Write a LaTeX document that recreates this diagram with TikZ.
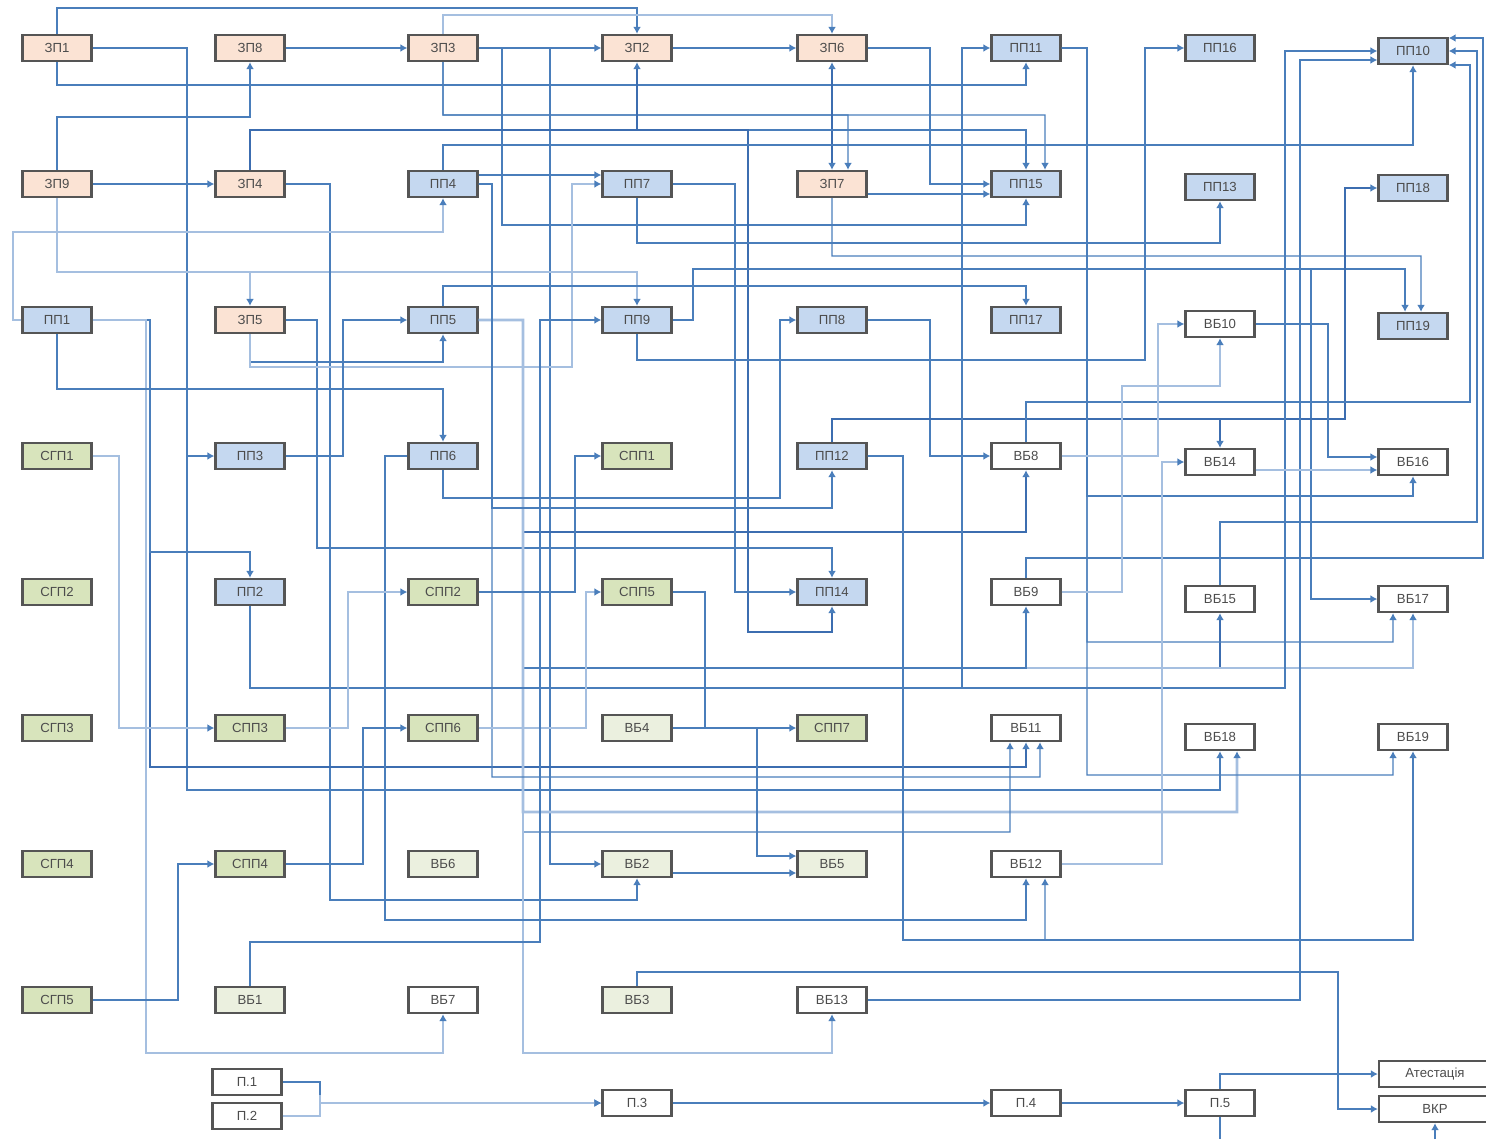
\documentclass[tikz,border=0pt]{standalone}
\usepackage{fontspec}
\setmainfont{Liberation Sans}
\usetikzlibrary{arrows.meta}
\definecolor{zpfill}{HTML}{FBE3D4}
\definecolor{ppfill}{HTML}{C5D8F0}
\definecolor{sgfill}{HTML}{D8E4BC}
\definecolor{vbfill}{HTML}{EBF0DF}
\definecolor{boxline}{HTML}{555555}
\definecolor{lnblue}{HTML}{4A7EBB}
\definecolor{lnlight}{HTML}{A5BFE0}
\definecolor{lndark}{HTML}{3C6DB0}

\begin{document}
\begin{tikzpicture}[x=0.02cm,y=-0.02cm,
  box/.style={draw=boxline,line width=1.3pt,minimum width=1.38cm,minimum height=0.52cm,inner sep=0pt,font=\fontsize{7.5}{9}\selectfont,text=black!70},
  zpbox/.style={box,fill=zpfill},
  ppbox/.style={box,fill=ppfill},
  sgbox/.style={box,fill=sgfill},
  vbgbox/.style={box,fill=vbfill},
  vbbox/.style={box,fill=white},
  ln/.style={draw=lnblue,line width=0.8pt},
  lnl/.style={draw=lnlight,line width=1.6pt},
  lnd/.style={draw=lndark,line width=1.4pt},
  arr/.style={-{Latex[length=4pt,width=4.5pt,color=lnblue]}}
]
\useasboundingbox (0,0) rectangle (1486,1139);

\node[zpbox] (zp1) at (57,48) {ЗП1};
\node[zpbox] (zp8) at (250,48) {ЗП8};
\node[zpbox] (zp3) at (443,48) {ЗП3};
\node[zpbox] (zp2) at (637,48) {ЗП2};
\node[zpbox] (zp6) at (832,48) {ЗП6};
\node[ppbox] (pp11) at (1026,48) {ПП11};
\node[ppbox] (pp16) at (1220,48) {ПП16};
\node[ppbox] (pp10) at (1413,51) {ПП10};

\node[zpbox] (zp9) at (57,184) {ЗП9};
\node[zpbox] (zp4) at (250,184) {ЗП4};
\node[ppbox] (pp4) at (443,184) {ПП4};
\node[ppbox] (pp7) at (637,184) {ПП7};
\node[zpbox] (zp7) at (832,184) {ЗП7};
\node[ppbox] (pp15) at (1026,184) {ПП15};
\node[ppbox] (pp13) at (1220,187) {ПП13};
\node[ppbox] (pp18) at (1413,188) {ПП18};

\node[ppbox] (pp1) at (57,320) {ПП1};
\node[zpbox] (zp5) at (250,320) {ЗП5};
\node[ppbox] (pp5) at (443,320) {ПП5};
\node[ppbox] (pp9) at (637,320) {ПП9};
\node[ppbox] (pp8) at (832,320) {ПП8};
\node[ppbox] (pp17) at (1026,320) {ПП17};
\node[vbbox] (vb10) at (1220,324) {ВБ10};
\node[ppbox] (pp19) at (1413,326) {ПП19};

\node[sgbox] (sg1) at (57,456) {СГП1};
\node[ppbox] (pp3) at (250,456) {ПП3};
\node[ppbox] (pp6) at (443,456) {ПП6};
\node[sgbox] (spp1) at (637,456) {СПП1};
\node[ppbox] (pp12) at (832,456) {ПП12};
\node[vbbox] (vb8) at (1026,456) {ВБ8};
\node[vbbox] (vb14) at (1220,462) {ВБ14};
\node[vbbox] (vb16) at (1413,462) {ВБ16};

\node[sgbox] (sg2) at (57,592) {СГП2};
\node[ppbox] (pp2) at (250,592) {ПП2};
\node[sgbox] (spp2) at (443,592) {СПП2};
\node[sgbox] (spp5) at (637,592) {СПП5};
\node[ppbox] (pp14) at (832,592) {ПП14};
\node[vbbox] (vb9) at (1026,592) {ВБ9};
\node[vbbox] (vb15) at (1220,599) {ВБ15};
\node[vbbox] (vb17) at (1413,599) {ВБ17};

\node[sgbox] (sg3) at (57,728) {СГП3};
\node[sgbox] (spp3) at (250,728) {СПП3};
\node[sgbox] (spp6) at (443,728) {СПП6};
\node[vbgbox] (vb4) at (637,728) {ВБ4};
\node[sgbox] (spp7) at (832,728) {СПП7};
\node[vbbox] (vb11) at (1026,728) {ВБ11};
\node[vbbox] (vb18) at (1220,737) {ВБ18};
\node[vbbox] (vb19) at (1413,737) {ВБ19};

\node[sgbox] (sg4) at (57,864) {СГП4};
\node[sgbox] (spp4) at (250,864) {СПП4};
\node[vbgbox] (vb6) at (443,864) {ВБ6};
\node[vbgbox] (vb2) at (637,864) {ВБ2};
\node[vbgbox] (vb5) at (832,864) {ВБ5};
\node[vbbox] (vb12) at (1026,864) {ВБ12};

\node[sgbox] (sg5) at (57,1000) {СГП5};
\node[vbgbox] (vb1) at (250,1000) {ВБ1};
\node[vbbox] (vb7) at (443,1000) {ВБ7};
\node[vbgbox] (vb3) at (637,1000) {ВБ3};
\node[vbbox] (vb13) at (832,1000) {ВБ13};

\node[vbbox] (p1) at (247,1082) {П.1};
\node[vbbox] (p2) at (247,1116) {П.2};
\node[vbbox] (p3) at (637,1103) {П.3};
\node[vbbox] (p4) at (1026,1103) {П.4};
\node[vbbox] (p5) at (1220,1103) {П.5};
\node[vbbox,minimum width=2.24cm] (att) at (1435,1074) {Атестація};
\node[vbbox,minimum width=2.24cm] (vkr) at (1435,1109) {ВКР};
\coordinate (p5out) at (1220,1139);
\coordinate (vkrin) at (1435,1139);

\draw[ln,arr] (zp1.north) |- (637,8) -- (zp2.north);
\draw[lnl,arr] (zp3.north) |- (832,15) -- (zp6.north);
\draw[ln,arr] (zp1.east) -| (187,300) |- (pp3.west);
\draw[ln,arr] (zp1.east) -| (187,790) -| (vb18.south);
\draw[ln,arr] (zp1.south) |- (1026,85) -- (pp11.south);
\draw[ln,arr] (zp9.north) |- (250,117) -- (zp8.south);
\draw[ln,arr] (zp8) -- (zp3);
\draw[ln,arr] (zp3) -- (zp2);
\draw[ln,arr] (zp2) -- (zp6);
\draw[ln,arr] (zp9) -- (zp4);
\draw[ln,arr] (zp3.east) -| (502,225) -| (pp15.south);
\draw[ln,arr] (zp3.east) -| (550,600) |- (vb2.west);
\draw[ln,arr] (zp3.south) |- (1045,115) -- ([xshift=0.38cm]pp15.north);
\draw[ln,arr] (zp3.south) |- (848,115) -- ([xshift=0.32cm]zp7.north);
\draw[lnd,arr] (zp4.north) |- (637,130) -- (zp2.south);
\draw[lnd,arr] (zp4.north) |- (832,130) -- (zp6.south);
\draw[lnd,arr] (zp4.north) |- (832,130) -- (zp7.north);
\draw[ln,arr] (zp4.north) |- (1026,130) -- (pp15.north);
\draw[lnd,arr] (zp4.north) |- (748,130) |- (832,632) -- (pp14.south);
\draw[ln,arr] (zp6.east) -| (930,120) |- (pp15.west);
\draw[ln,arr] ([yshift=-0.2cm]zp7.east) -- ([yshift=-0.2cm]pp15.west);
\draw[lnl,arr] (zp9.south) |- (250,272) -- (zp5.north);
\draw[lnl,arr] (zp9.south) |- (637,272) -- (pp9.north);
\draw[ln,arr] (zp4.east) -| (330,600) |- (637,900) -- (vb2.south);

\draw[lnd,arr] (pp1.east) -| (150,600) |- (1026,767) -- (vb11.south);
\draw[ln,arr] (pp1.east) -| (150,400) |- (250,552) -- (pp2.north);
\draw[lnl,arr] (pp1.east) -| (146,700) |- (443,1053) -- (vb7.south);
\draw[lnl,arr] (pp1.west) -| (13,280) |- (443,232) -- (pp4.south);
\draw[ln,arr] (pp1.south) |- (443,389) -- (pp6.north);

\draw[ln,arr] (zp5.east) -| (317,400) |- (832,548) -- (pp14.north);
\draw[ln,arr] (zp5.south) |- (443,362) -- (pp5.south);
\draw[lnl,arr] (zp5.south) |- (572,367) |- (pp7.west);
\draw[ln,arr] (pp3.east) -| (343,400) |- (pp5.west);

\draw[lnd,arr] (pp5.east) -| (523,450) |- (1026,532) -- (vb8.south);
\draw[lnd,arr] (pp5.east) -| (523,600) |- (1220,668) -- (vb15.south);
\draw[lnl,arr] (pp5.east) -| (523,600) |- (1413,668) -- (vb17.south);
\draw[ln,arr] (pp5.east) -| (523,600) |- (1026,668) -- (vb9.south);
\draw[lnl,arr] (pp5.east) -| (523,700) |- (1237,812) -- ([xshift=0.34cm]vb18.south);
\draw[ln,arr] (pp5.east) -| (523,700) |- (1010,832) -- ([xshift=-0.32cm]vb11.south);
\draw[lnl,arr] (pp5.east) -| (523,900) |- (832,1053) -- (vb13.south);
\draw[ln,arr] (pp5.north) |- (1026,286) -- (pp17.north);

\draw[ln,arr] (pp4.north) |- (1413,145) -- (pp10.south);
\draw[ln,arr] ([yshift=0.18cm]pp4.east) -- ([yshift=0.18cm]pp7.west);
\draw[ln,arr] (pp4.east) -| (492,400) |- (832,508) -- (pp12.south);
\draw[ln,arr] (pp4.east) -| (492,600) |- (1040,777) -- ([xshift=0.28cm]vb11.south);

\draw[ln,arr] (pp7.east) -| (735,400) |- (pp14.west);
\draw[ln,arr] (pp7.south) |- (1220,243) -- (pp13.south);
\draw[ln,arr] (zp7.south) |- (1421,256) -- ([xshift=0.16cm]pp19.north);
\draw[ln,arr] (pp9.east) -| (693,269) -| ([xshift=-0.16cm]pp19.north);
\draw[ln,arr] (pp9.east) -| (693,269) -| (1311,450) |- (vb17.west);
\draw[ln,arr] (pp9.south) |- (1145,360) |- (pp16.west);
\draw[ln,arr] (pp6.south) |- (780,498) |- (pp8.west);
\draw[ln,arr] (pp6.west) -| (385,700) |- (1026,920) -- (vb12.south);
\draw[ln,arr] (pp8.east) -| (930,400) |- (vb8.west);

\draw[lnd,arr] (pp12.north) |- (1345,419) |- (pp18.west);
\draw[lnd,arr] (pp12.north) |- (1220,419) -- (vb14.north);
\draw[ln,arr] (pp12.east) -| (903,700) |- (1045,940) -- ([xshift=0.38cm]vb12.south);
\draw[ln,arr] (pp12.east) -| (903,700) |- (1413,940) -- (vb19.south);

\draw[ln,arr] (pp11.east) -| (1087,300) |- (1413,496) -- (vb16.south);
\draw[ln,arr] (pp11.east) -| (1087,300) |- (1393,642) -- ([xshift=-0.4cm]vb17.south);
\draw[ln,arr] (pp11.east) -| (1087,300) |- (1393,775) -- ([xshift=-0.4cm]vb19.south);

\draw[ln,arr] (pp2.south) |- (1285,688) |- (pp10.west);
\draw[ln,arr] (pp2.south) |- (962,688) |- (pp11.west);
\draw[ln,arr] (vb13.east) -| (1300,400) |- ([yshift=-0.18cm]pp10.west);
\draw[ln,arr] (vb8.north) |- (1470,402) |- ([yshift=-0.28cm]pp10.east);
\draw[ln,arr] (vb15.north) |- (1477,522) |- (pp10.east);
\draw[ln,arr] (vb9.north) |- (1483,558) |- ([yshift=0.26cm]pp10.east);

\draw[lnl,arr] (vb8.east) -| (1158,400) |- (vb10.west);
\draw[lnl,arr] (vb9.east) -| (1122,500) |- (1220,386) -- (vb10.south);
\draw[ln,arr] (vb10.east) -| (1328,400) |- ([yshift=0.1cm]vb16.west);
\draw[lnl,arr] ([yshift=-0.16cm]vb14.east) -- ([yshift=-0.16cm]vb16.west);
\draw[lnl,arr] (vb12.east) -| (1162,700) |- (vb14.west);

\draw[ln,arr] (spp2.east) -| (575,500) |- (spp1.west);
\draw[lnl,arr] (spp6.east) -| (586,650) |- (spp5.west);
\draw[ln,arr] (spp5.east) -| (705,650) |- (spp7.west);
\draw[lnl,arr] (spp3.east) -| (348,650) |- (spp2.west);
\draw[ln,arr] (spp4.east) -| (363,800) |- (spp6.west);
\draw[lnl,arr] (sg1.east) -| (119,600) |- (spp3.west);
\draw[ln,arr] (sg5.east) -| (178,900) |- (spp4.west);
\draw[ln,arr] (vb4.east) -| (757,800) |- ([yshift=0.16cm]vb5.west);
\draw[ln,arr] ([yshift=-0.18cm]vb2.east) -- ([yshift=-0.18cm]vb5.west);
\draw[ln,arr] (vb1.north) |- (540,942) |- (pp9.west);
\draw[ln,arr] (vb3.north) |- (1338,972) |- (vkr.west);

\draw[ln,arr] (p1.east) -| (320,1095) |- (p3.west);
\draw[lnl,arr] (p2.east) -| (320,1095) |- (p3.west);
\draw[ln,arr] (p3) -- (p4);
\draw[ln,arr] (p4) -- (p5);
\draw[ln,arr] (p5.north) |- (att.west);
\draw[ln] (p5.south) -- (p5out);
\draw[ln,arr] (vkrin) -- (vkr.south);
\end{tikzpicture}
\end{document}
